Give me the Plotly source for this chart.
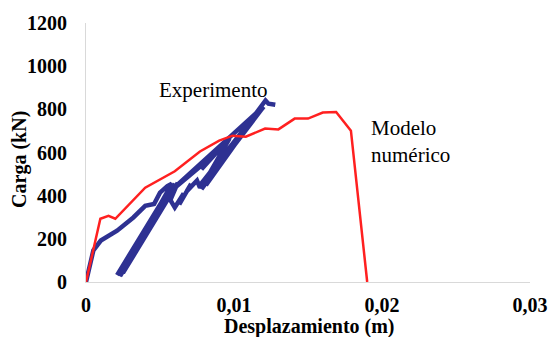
import plotly.graph_objects as go

# Numerical model (red)
model_x = [0, 0.00097, 0.00152, 0.00198, 0.0040, 0.0060, 0.0077, 0.0090, 0.0099,
           0.0108, 0.0121, 0.0130, 0.0141, 0.0150, 0.0160, 0.0169, 0.0179, 0.0190]
model_y = [0, 293, 307, 293, 437, 513, 605, 655, 678,
           673, 711, 707, 757, 757, 785, 788, 701, 0]

# Experiment (blue, cyclic)
exp_x = [0, 0.0003, 0.0005, 0.0010, 0.0021, 0.0032, 0.0040, 0.0046, 0.0050, 0.0055, 0.0058,
         0.0024, 0.0059, 0.0023, 0.0058, 0.0025, 0.0060, 0.0022, 0.0057, 0.0024, 0.0059,
         0.0026, 0.0061, 0.0023, 0.0056, 0.0021, 0.0058, 0.0025, 0.0062,
         0.0057, 0.0060, 0.0066, 0.0063, 0.0071, 0.0068, 0.0075,
         0.0077, 0.0117, 0.0079, 0.0118, 0.0078, 0.0116, 0.0080, 0.0119, 0.0082,
         0.0120, 0.0076, 0.0115, 0.0081, 0.0117,
         0.0055, 0.0084, 0.0078, 0.0097, 0.0079, 0.0117, 0.0081, 0.0118,
         0.01213, 0.01233, 0.01279]
exp_y = [0, 90, 147, 192, 238, 299, 353, 361, 414, 444, 455,
         40, 450, 35, 440, 45, 455, 30, 432, 50, 445,
         55, 452, 28, 425, 32, 448, 42, 459,
         380, 345, 410, 360, 455, 420, 470,
         437, 800, 445, 810, 430, 790, 455, 815, 470,
         812, 440, 780, 448, 795,
         408, 574, 522, 666, 450, 805, 460, 812,
         841, 826, 821]

x_ticks = [0, 0.01, 0.02, 0.03]
x_tick_text = ["0", "0,01", "0,02", "0,03"]
y_ticks = [0, 200, 400, 600, 800, 1000, 1200]

serif = "Liberation Serif, Times New Roman, Times, serif"

fig = go.Figure()
fig.add_trace(go.Scatter(x=exp_x, y=exp_y, mode="lines",
                         line=dict(color="#2E3192", width=4.5), showlegend=False))
fig.add_trace(go.Scatter(x=model_x, y=model_y, mode="lines",
                         line=dict(color="#FF2020", width=2.5), showlegend=False))

fig.update_layout(
    width=560, height=337,
    margin=dict(l=86, r=20, t=20, b=55),
    paper_bgcolor="white", plot_bgcolor="white",
    font=dict(family=serif, size=20, color="black"),
    xaxis=dict(range=[0, 0.03], tickvals=x_ticks, ticktext=x_tick_text,
               showgrid=False, zeroline=False, showline=True, linecolor="#D9D9D9",
               linewidth=1, ticks="", ticklabelstandoff=5,
               tickfont=dict(family=serif, size=20, color="black", weight="bold")),
    yaxis=dict(range=[0, 1200], tickvals=y_ticks,
               showgrid=False, zeroline=False, showline=True, linecolor="#D9D9D9",
               linewidth=1, ticks="", ticklabelstandoff=14,
               tickfont=dict(family=serif, size=20, color="black", weight="bold")),
)

fig.add_annotation(text="<b>Desplazamiento (m)</b>", xref="paper", yref="paper",
                   x=(315 - 86) / 454, y=-(327 - 282) / 262, showarrow=False,
                   font=dict(family=serif, size=20, color="black"),
                   xanchor="center", yanchor="middle")
fig.add_annotation(text="<b>Carga (kN)</b>", xref="paper", yref="paper",
                   x=-(86 - 18) / 454, y=(282 - 158) / 262, showarrow=False, textangle=-90,
                   font=dict(family=serif, size=20, color="black"),
                   xanchor="center", yanchor="middle")
fig.add_annotation(text="Experimento", x=(159 - 86) / 454, y=(282 - 88) / 262,
                   xref="paper", yref="paper", showarrow=False,
                   font=dict(family=serif, size=21, color="black"),
                   xanchor="left", yanchor="middle")
fig.add_annotation(text="Modelo<br>numérico", x=(375 - 86) / 454, y=(282 - 140) / 262,
                   xref="paper", yref="paper", showarrow=False, align="left",
                   font=dict(family=serif, size=21, color="black"),
                   xanchor="left", yanchor="middle")

fig.write_html("out.html")
